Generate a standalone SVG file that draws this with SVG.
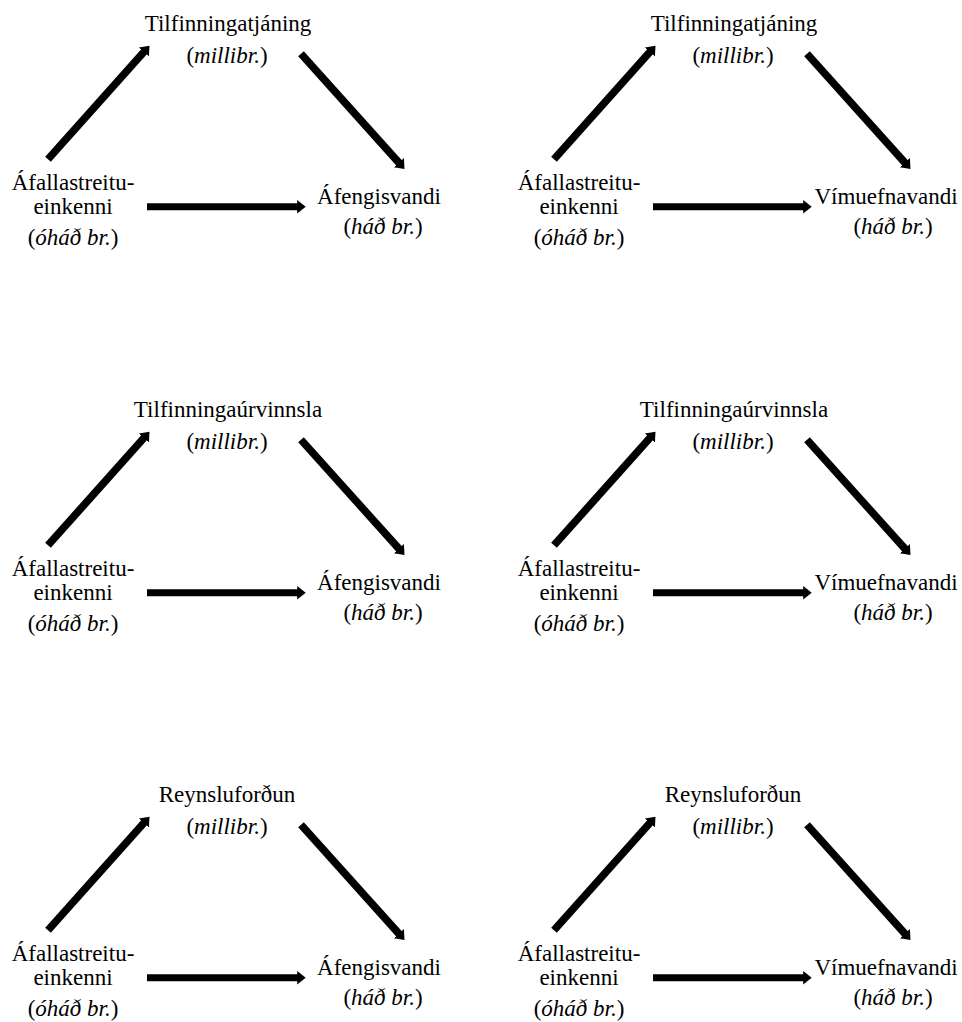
<svg xmlns="http://www.w3.org/2000/svg" width="962" height="1022" viewBox="0 0 962 1022" font-family="'Liberation Serif', 'Times New Roman', serif">
<style>
text{font-family:'Liberation Serif', 'Times New Roman', serif;font-size:23px;fill:#000;text-anchor:middle}
.i{font-style:italic}
.c{stroke:#000;stroke-width:7;fill:none;marker-end:url(#ah)}
.d{stroke-width:7.6}
</style>
<defs>
<marker id="ah" markerUnits="userSpaceOnUse" markerWidth="11" markerHeight="15" viewBox="0 -7.5 11 15" refX="1" refY="0" orient="auto"><path d="M0,-6.8 L8.5,0 L0,6.8 z" fill="#000"/></marker>
</defs>
<rect width="962" height="1022" fill="#fff"/>

<g id="panel1">
<g id="p1-med"><text x="228" y="30.5">Tilfinningatjáning</text><text x="227" y="62.5">(<tspan class="i">millibr.</tspan>)</text></g>
<g id="p1-iv"><text x="73" y="190">Áfallastreitu-</text><text x="73" y="213.5">einkenni</text><text x="73" y="245">(<tspan class="i">óháð br.</tspan>)</text></g>
<g id="p1-dv"><text x="379" y="203.5">Áfengisvandi</text><text x="383" y="233.5">(<tspan class="i">háð br.</tspan>)</text></g>
<g id="p1-connectors"><line class="c d" x1="48" y1="159.3" x2="144.5" y2="51.3"/><line class="c d" x1="301" y1="53.7" x2="399.5" y2="163.4"/><line class="c" x1="147" y1="206.7" x2="298.2" y2="206.7"/></g>
</g>

<g id="panel2" transform="translate(506,0)">
<g id="p2-med"><text x="228" y="30.5">Tilfinningatjáning</text><text x="227" y="62.5">(<tspan class="i">millibr.</tspan>)</text></g>
<g id="p2-iv"><text x="73" y="190">Áfallastreitu-</text><text x="73" y="213.5">einkenni</text><text x="73" y="245">(<tspan class="i">óháð br.</tspan>)</text></g>
<g id="p2-dv"><text x="380" y="203.5">Vímuefnavandi</text><text x="387" y="233.5">(<tspan class="i">háð br.</tspan>)</text></g>
<g id="p2-connectors"><line class="c d" x1="48" y1="159.3" x2="144.5" y2="51.3"/><line class="c d" x1="301" y1="53.7" x2="399.5" y2="163.4"/><line class="c" x1="147" y1="206.7" x2="298.2" y2="206.7"/></g>
</g>

<g id="panel3" transform="translate(0,386)">
<g id="p3-med"><text x="228" y="30.5">Tilfinningaúrvinnsla</text><text x="227" y="62.5">(<tspan class="i">millibr.</tspan>)</text></g>
<g id="p3-iv"><text x="73" y="190">Áfallastreitu-</text><text x="73" y="213.5">einkenni</text><text x="73" y="245">(<tspan class="i">óháð br.</tspan>)</text></g>
<g id="p3-dv"><text x="379" y="203.5">Áfengisvandi</text><text x="383" y="233.5">(<tspan class="i">háð br.</tspan>)</text></g>
<g id="p3-connectors"><line class="c d" x1="48" y1="159.3" x2="144.5" y2="51.3"/><line class="c d" x1="301" y1="53.7" x2="399.5" y2="163.4"/><line class="c" x1="147" y1="206.7" x2="298.2" y2="206.7"/></g>
</g>

<g id="panel4" transform="translate(506,386)">
<g id="p4-med"><text x="228" y="30.5">Tilfinningaúrvinnsla</text><text x="227" y="62.5">(<tspan class="i">millibr.</tspan>)</text></g>
<g id="p4-iv"><text x="73" y="190">Áfallastreitu-</text><text x="73" y="213.5">einkenni</text><text x="73" y="245">(<tspan class="i">óháð br.</tspan>)</text></g>
<g id="p4-dv"><text x="380" y="203.5">Vímuefnavandi</text><text x="387" y="233.5">(<tspan class="i">háð br.</tspan>)</text></g>
<g id="p4-connectors"><line class="c d" x1="48" y1="159.3" x2="144.5" y2="51.3"/><line class="c d" x1="301" y1="53.7" x2="399.5" y2="163.4"/><line class="c" x1="147" y1="206.7" x2="298.2" y2="206.7"/></g>
</g>

<g id="panel5" transform="translate(0,771)">
<g id="p5-med"><text x="227" y="30.5">Reynsluforðun</text><text x="227" y="62.5">(<tspan class="i">millibr.</tspan>)</text></g>
<g id="p5-iv"><text x="73" y="190">Áfallastreitu-</text><text x="73" y="213.5">einkenni</text><text x="73" y="245">(<tspan class="i">óháð br.</tspan>)</text></g>
<g id="p5-dv"><text x="379" y="203.5">Áfengisvandi</text><text x="383" y="233.5">(<tspan class="i">háð br.</tspan>)</text></g>
<g id="p5-connectors"><line class="c d" x1="48" y1="159.3" x2="144.5" y2="51.3"/><line class="c d" x1="301" y1="53.7" x2="399.5" y2="163.4"/><line class="c" x1="147" y1="206.7" x2="298.2" y2="206.7"/></g>
</g>

<g id="panel6" transform="translate(506,771)">
<g id="p6-med"><text x="227" y="30.5">Reynsluforðun</text><text x="227" y="62.5">(<tspan class="i">millibr.</tspan>)</text></g>
<g id="p6-iv"><text x="73" y="190">Áfallastreitu-</text><text x="73" y="213.5">einkenni</text><text x="73" y="245">(<tspan class="i">óháð br.</tspan>)</text></g>
<g id="p6-dv"><text x="380" y="203.5">Vímuefnavandi</text><text x="387" y="233.5">(<tspan class="i">háð br.</tspan>)</text></g>
<g id="p6-connectors"><line class="c d" x1="48" y1="159.3" x2="144.5" y2="51.3"/><line class="c d" x1="301" y1="53.7" x2="399.5" y2="163.4"/><line class="c" x1="147" y1="206.7" x2="298.2" y2="206.7"/></g>
</g>
</svg>
